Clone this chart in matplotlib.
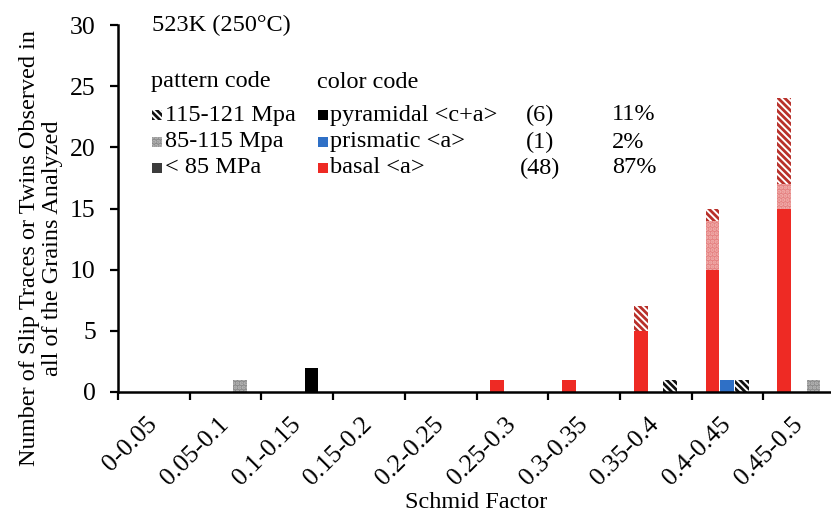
import numpy as np
import matplotlib
matplotlib.use("Agg")
import matplotlib.pyplot as plt
from matplotlib.patches import Rectangle

plt.rcParams['font.family'] = ['Liberation Serif', 'DejaVu Serif']
plt.rcParams['font.size'] = 17.5
plt.rcParams['hatch.linewidth'] = 2.0

W, H = 831, 517

categories = ['0-0.05', '0.05-0.1', '0.1-0.15', '0.15-0.2', '0.2-0.25',
              '0.25-0.3', '0.3-0.35', '0.35-0.4', '0.4-0.45', '0.45-0.5']

# counts per Schmid factor bin, split by resolved shear stress range
basal_lt85 = [0, 0, 0, 0, 0, 1, 1, 5, 10, 15]
basal_85_115 = [0, 0, 0, 0, 0, 0, 0, 0, 4, 2]
basal_115_121 = [0, 0, 0, 0, 0, 0, 0, 2, 1, 7]

prism_lt85 = [0, 0, 0, 0, 0, 0, 0, 0, 1, 0]
prism_85_115 = [0, 0, 0, 0, 0, 0, 0, 0, 0, 0]
prism_115_121 = [0, 0, 0, 0, 0, 0, 0, 0, 0, 0]

pyr_lt85 = [0, 0, 2, 0, 0, 0, 0, 0, 0, 0]
pyr_85_115 = [0, 1, 0, 0, 0, 0, 0, 0, 0, 1]
pyr_115_121 = [0, 0, 0, 0, 0, 0, 0, 1, 1, 0]

STRIPES = '\\' * 5

fig = plt.figure(figsize=(W / 100, H / 100), dpi=100)
ax = fig.add_axes([118 / W, (H - 392) / H, (835 - 118) / W, (392 - 25) / H])


def px(x, y):
    return x / W, 1 - y / H


x = np.arange(len(categories))
bw = 0.19

systems = [
    # offset, (solid, light, dots, stripe), stacks
    (0.29, ('#ee2a24', '#e48080', '#f2b0ad', '#b8302a'),
     (basal_lt85, basal_85_115, basal_115_121)),
    (0.49, ('#2f70c6', '#7fa6dc', '#b0c8ea', '#1f4f90'),
     (prism_lt85, prism_85_115, prism_115_121)),
    (0.70, ('#000000', '#8a8a8a', '#b8b8b8', '#111111'),
     (pyr_lt85, pyr_85_115, pyr_115_121)),
]

for off, (solid, light, dots, stripe), (lo, mid, hi) in systems:
    lo = np.array(lo, float)
    mid = np.array(mid, float)
    hi = np.array(hi, float)
    ax.bar(x + off, lo, bw, color=solid, lw=0)
    ax.bar(x + off, mid, bw, bottom=lo, facecolor=light, edgecolor=dots,
           hatch='....', lw=0)
    ax.bar(x + off, hi, bw, bottom=lo + mid, facecolor='white',
           edgecolor=stripe, hatch=STRIPES, lw=0)

ax.set_xlim(0, len(categories))
ax.set_ylim(0, 30)
ax.set_yticks(range(0, 31, 5))
ax.set_xticks(np.arange(0, len(categories) + 1))
ax.set_xticklabels([])
for i, lab in enumerate(categories):
    ax.annotate(lab, xy=(i + 0.5, 0), xycoords=('data', 'axes fraction'),
                xytext=(0, -21), textcoords='offset points', rotation=45,
                ha='right', va='center', rotation_mode='anchor', fontsize=18.5,
                annotation_clip=False)
ax.tick_params(axis='both', which='major', direction='out', length=6,
               width=1.6, color='black')
ax.tick_params(axis='y', pad=10, labelsize=18.5)
for s in ('top', 'right'):
    ax.spines[s].set_visible(False)
for s in ('left', 'bottom'):
    ax.spines[s].set_linewidth(1.8)

fig.text(*px(41, 248), 'Number of Slip Traces or Twins Observed in\nall of the Grains Analyzed',
         rotation=90, ha='center', va='center', multialignment='center',
         linespacing=1.15)
fig.text(*px(476, 503), 'Schmid Factor', ha='center', va='center')
fig.text(*px(152, 25), '523K (250°C)', ha='left', va='center')

# legend block
fig.text(*px(151, 82), 'pattern code', ha='left', va='center')
fig.text(*px(317, 82), 'color code', ha='left', va='center')

pattern_rows = [
    ('115-121 Mpa', dict(facecolor='white', edgecolor='#111111', hatch=STRIPES)),
    ('85-115 Mpa', dict(facecolor='#8a8a8a', edgecolor='#b8b8b8', hatch='....')),
    ('< 85 MPa', dict(facecolor='#3c3c3c', edgecolor='#3c3c3c')),
]
row_y = [115, 142, 168]
for (lab, style), ry in zip(pattern_rows, row_y):
    fig.patches.append(Rectangle(px(152, ry + 5), 10 / W, 10 / H, lw=0,
                                 transform=fig.transFigure, figure=fig, **style))
    fig.text(*px(165, ry), lab, ha='left', va='center')

totals = [sum(pyr_lt85) + sum(pyr_85_115) + sum(pyr_115_121),
          sum(prism_lt85) + sum(prism_85_115) + sum(prism_115_121),
          sum(basal_lt85) + sum(basal_85_115) + sum(basal_115_121)]
color_rows = [('pyramidal <c+a>', '#000000'), ('prismatic <a>', '#2f70c6'),
              ('basal <a>', '#ee2a24')]
grand = sum(totals)
for (lab, col), n, ry in zip(color_rows, totals, row_y):
    fig.patches.append(Rectangle(px(318, ry + 5), 10 / W, 10 / H, lw=0,
                                 facecolor=col, transform=fig.transFigure,
                                 figure=fig))
    fig.text(*px(330, ry), lab, ha='left', va='center')
    fig.text(*px(540, ry), f'({n})', ha='center', va='center')
    fig.text(*px(612, ry), f'{round(100 * n / grand)}%', ha='left', va='center')

fig.savefig('out.png', dpi=100)
